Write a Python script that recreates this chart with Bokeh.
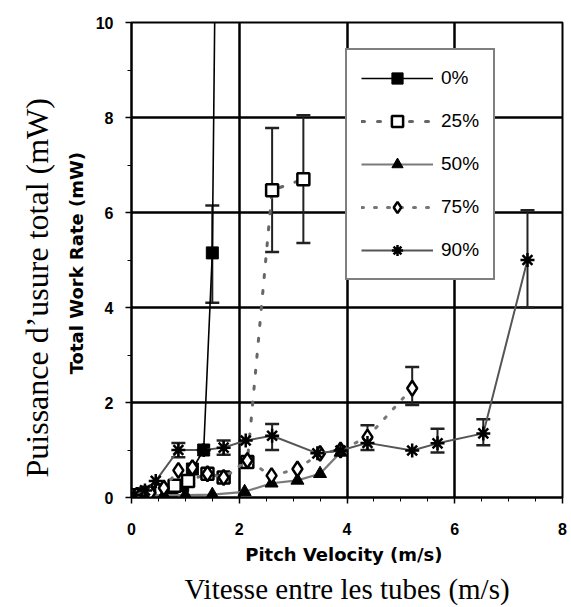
from bokeh.embed import file_html
from bokeh.models import (ColumnDataSource, FixedTicker, Legend, LegendItem,
                          Range1d, TeeHead, Title, Whisker)
from bokeh.plotting import figure
from bokeh.resources import INLINE

# Total work rate (mW) against pitch velocity (m/s), one series per void fraction
v_0 = [0.05, 0.2, 0.35, 0.55, 0.75, 0.95, 1.13, 1.34, 1.5, 1.58]
w_0 = [0.05, 0.08, 0.1, 0.12, 0.15, 0.25, 0.6, 1.0, 5.15, 14.0]

v_25 = [0.1, 0.3, 0.55, 0.8, 1.05, 1.41, 1.71, 2.15, 2.61, 3.19]
w_25 = [0.05, 0.1, 0.15, 0.25, 0.35, 0.5, 0.42, 0.75, 6.47, 6.7]

v_50 = [0.05, 0.3, 0.6, 1.0, 1.5, 2.1, 2.6, 3.08, 3.5, 3.88]
w_50 = [0.02, 0.04, 0.05, 0.05, 0.06, 0.12, 0.3, 0.36, 0.5, 0.95]

v_75 = [0.1, 0.35, 0.6, 0.87, 1.13, 1.41, 1.71, 2.15, 2.6, 3.08, 3.5, 3.88, 4.38, 5.21]
w_75 = [0.05, 0.1, 0.2, 0.57, 0.63, 0.5, 0.42, 0.78, 0.46, 0.6, 0.93, 1.0, 1.27, 2.3]

v_90 = [0.05, 0.25, 0.45, 0.87, 1.34, 1.71, 2.12, 2.61, 3.45, 3.88, 4.38, 5.21, 5.68, 6.53, 7.35]
w_90 = [0.05, 0.15, 0.35, 1.0, 1.0, 1.05, 1.2, 1.3, 0.93, 0.99, 1.15, 0.99, 1.14, 1.35, 5.0]

# Error bars: velocity, lower and upper work rate
err_v = [1.5, 2.61, 3.19, 5.21, 0.87, 1.71, 2.61, 4.38, 5.68, 6.53, 7.35]
err_lo = [4.1, 5.17, 5.36, 1.95, 0.85, 0.9, 1.0, 1.0, 0.95, 1.1, 4.0]
err_hi = [6.15, 7.78, 8.05, 2.75, 1.15, 1.2, 1.55, 1.52, 1.45, 1.65, 6.05]

x_ticks = [0, 2, 4, 6, 8]
y_ticks = [0, 2, 4, 6, 8, 10]
series_labels = ["0%", "25%", "50%", "75%", "90%"]

p = figure(width=571, height=607, output_backend="svg", toolbar_location=None,
           x_range=Range1d(0, 8), y_range=Range1d(0, 10),
           min_border_left=131, min_border_right=9,
           min_border_top=22, min_border_bottom=110)
p.background_fill_color = "white"
p.border_fill_color = "white"
p.outline_line_color = "black"
p.outline_line_width = 2

p.xaxis.ticker = FixedTicker(ticks=x_ticks, minor_ticks=[i * 0.5 for i in range(17)])
p.yaxis.ticker = FixedTicker(ticks=y_ticks, minor_ticks=list(range(11)))
for ax in (p.xaxis, p.yaxis):
    ax.axis_line_color = "black"
    ax.axis_line_width = 2
    ax.major_tick_line_color = "black"
    ax.major_tick_line_width = 1.5
    ax.major_tick_in = 0
    ax.major_tick_out = 6
    ax.minor_tick_line_color = "black"
    ax.minor_tick_in = 0
    ax.minor_tick_out = 4
    ax.major_label_text_font = "Liberation Sans"
    ax.major_label_text_font_style = "bold"
    ax.major_label_text_font_size = "16px"
    ax.major_label_text_color = "black"
    ax.axis_label_text_font = "DejaVu Sans"
    ax.axis_label_text_font_style = "bold"
    ax.axis_label_text_font_size = "18px"
    ax.axis_label_text_color = "black"

p.xaxis.axis_label = "Pitch Velocity  (m/s)"
p.yaxis.axis_label = "Total Work Rate  (mW)"
p.xaxis.major_label_standoff = 19
p.yaxis.major_label_standoff = 12
p.xaxis.axis_label_standoff = 6
p.yaxis.axis_label_standoff = 6

p.xgrid.ticker = FixedTicker(ticks=[2, 4, 6])
p.ygrid.ticker = FixedTicker(ticks=[2, 4, 6, 8])
for g in (p.xgrid, p.ygrid):
    g.grid_line_color = "black"
    g.grid_line_width = 2.5

# Error bars
err_src = ColumnDataSource(dict(v=err_v, lo=err_lo, hi=err_hi))
p.add_layout(Whisker(source=err_src, base="v", lower="lo", upper="hi",
                     line_color="#222222", line_width=2,
                     upper_head=TeeHead(size=14, line_color="#222222", line_width=2.5),
                     lower_head=TeeHead(size=14, line_color="#222222", line_width=2.5)))

# Series
l0 = p.line(v_0, w_0, line_color="black", line_width=1.6)
m0 = p.scatter(v_0, w_0, marker="square", size=12, fill_color="black", line_color="black")

l25 = p.line(v_25, w_25, line_color="#666666", line_width=3, line_dash="3 13", line_cap="round")
m25 = p.scatter(v_25, w_25, marker="square", size=12, fill_color="white",
                line_color="black", line_width=2.5)

l50 = p.line(v_50, w_50, line_color="#7a7a7a", line_width=2.2)
m50 = p.scatter(v_50, w_50, marker="triangle", size=13, fill_color="black", line_color="black")

l75 = p.line(v_75, w_75, line_color="#777777", line_width=3, line_dash="2 11", line_cap="round")
m75 = p.scatter(v_75, w_75, marker="diamond", size=15, fill_color="white",
                line_color="black", line_width=2.5)

l90 = p.line(v_90, w_90, line_color="#555555", line_width=2)
m90 = p.scatter(v_90, w_90, marker="asterisk", size=14, line_color="black", line_width=2.5)

legend = Legend(items=[
    LegendItem(label=series_labels[0], renderers=[l0, m0]),
    LegendItem(label=series_labels[1], renderers=[l25, m25]),
    LegendItem(label=series_labels[2], renderers=[l50, m50]),
    LegendItem(label=series_labels[3], renderers=[l75, m75]),
    LegendItem(label=series_labels[4], renderers=[l90, m90]),
], location=(214, 217))
legend.glyph_width = 72
legend.glyph_height = 28
legend.label_height = 28
legend.label_standoff = 8
legend.spacing = 15
legend.padding = 14
legend.margin = 0
legend.border_line_color = "black"
legend.border_line_width = 2
legend.background_fill_color = "white"
legend.background_fill_alpha = 1
legend.label_text_font = "Liberation Sans"
legend.label_text_font_size = "19px"
legend.label_text_color = "black"
p.add_layout(legend, "center")

# French axis titles, outside the English axis labels
p.add_layout(Title(text="Vitesse entre les tubes (m/s)", align="center",
                   text_font="Liberation Serif", text_font_size="29px",
                   text_font_style="normal", text_color="black", standoff=6), "below")
p.add_layout(Title(text="Puissance d\u2019usure total (mW)", align="left", offset=20,
                   text_font="Liberation Serif", text_font_size="32px",
                   text_font_style="normal", text_color="black", standoff=16), "left")

open("out.html", "w").write(file_html(p, INLINE))
